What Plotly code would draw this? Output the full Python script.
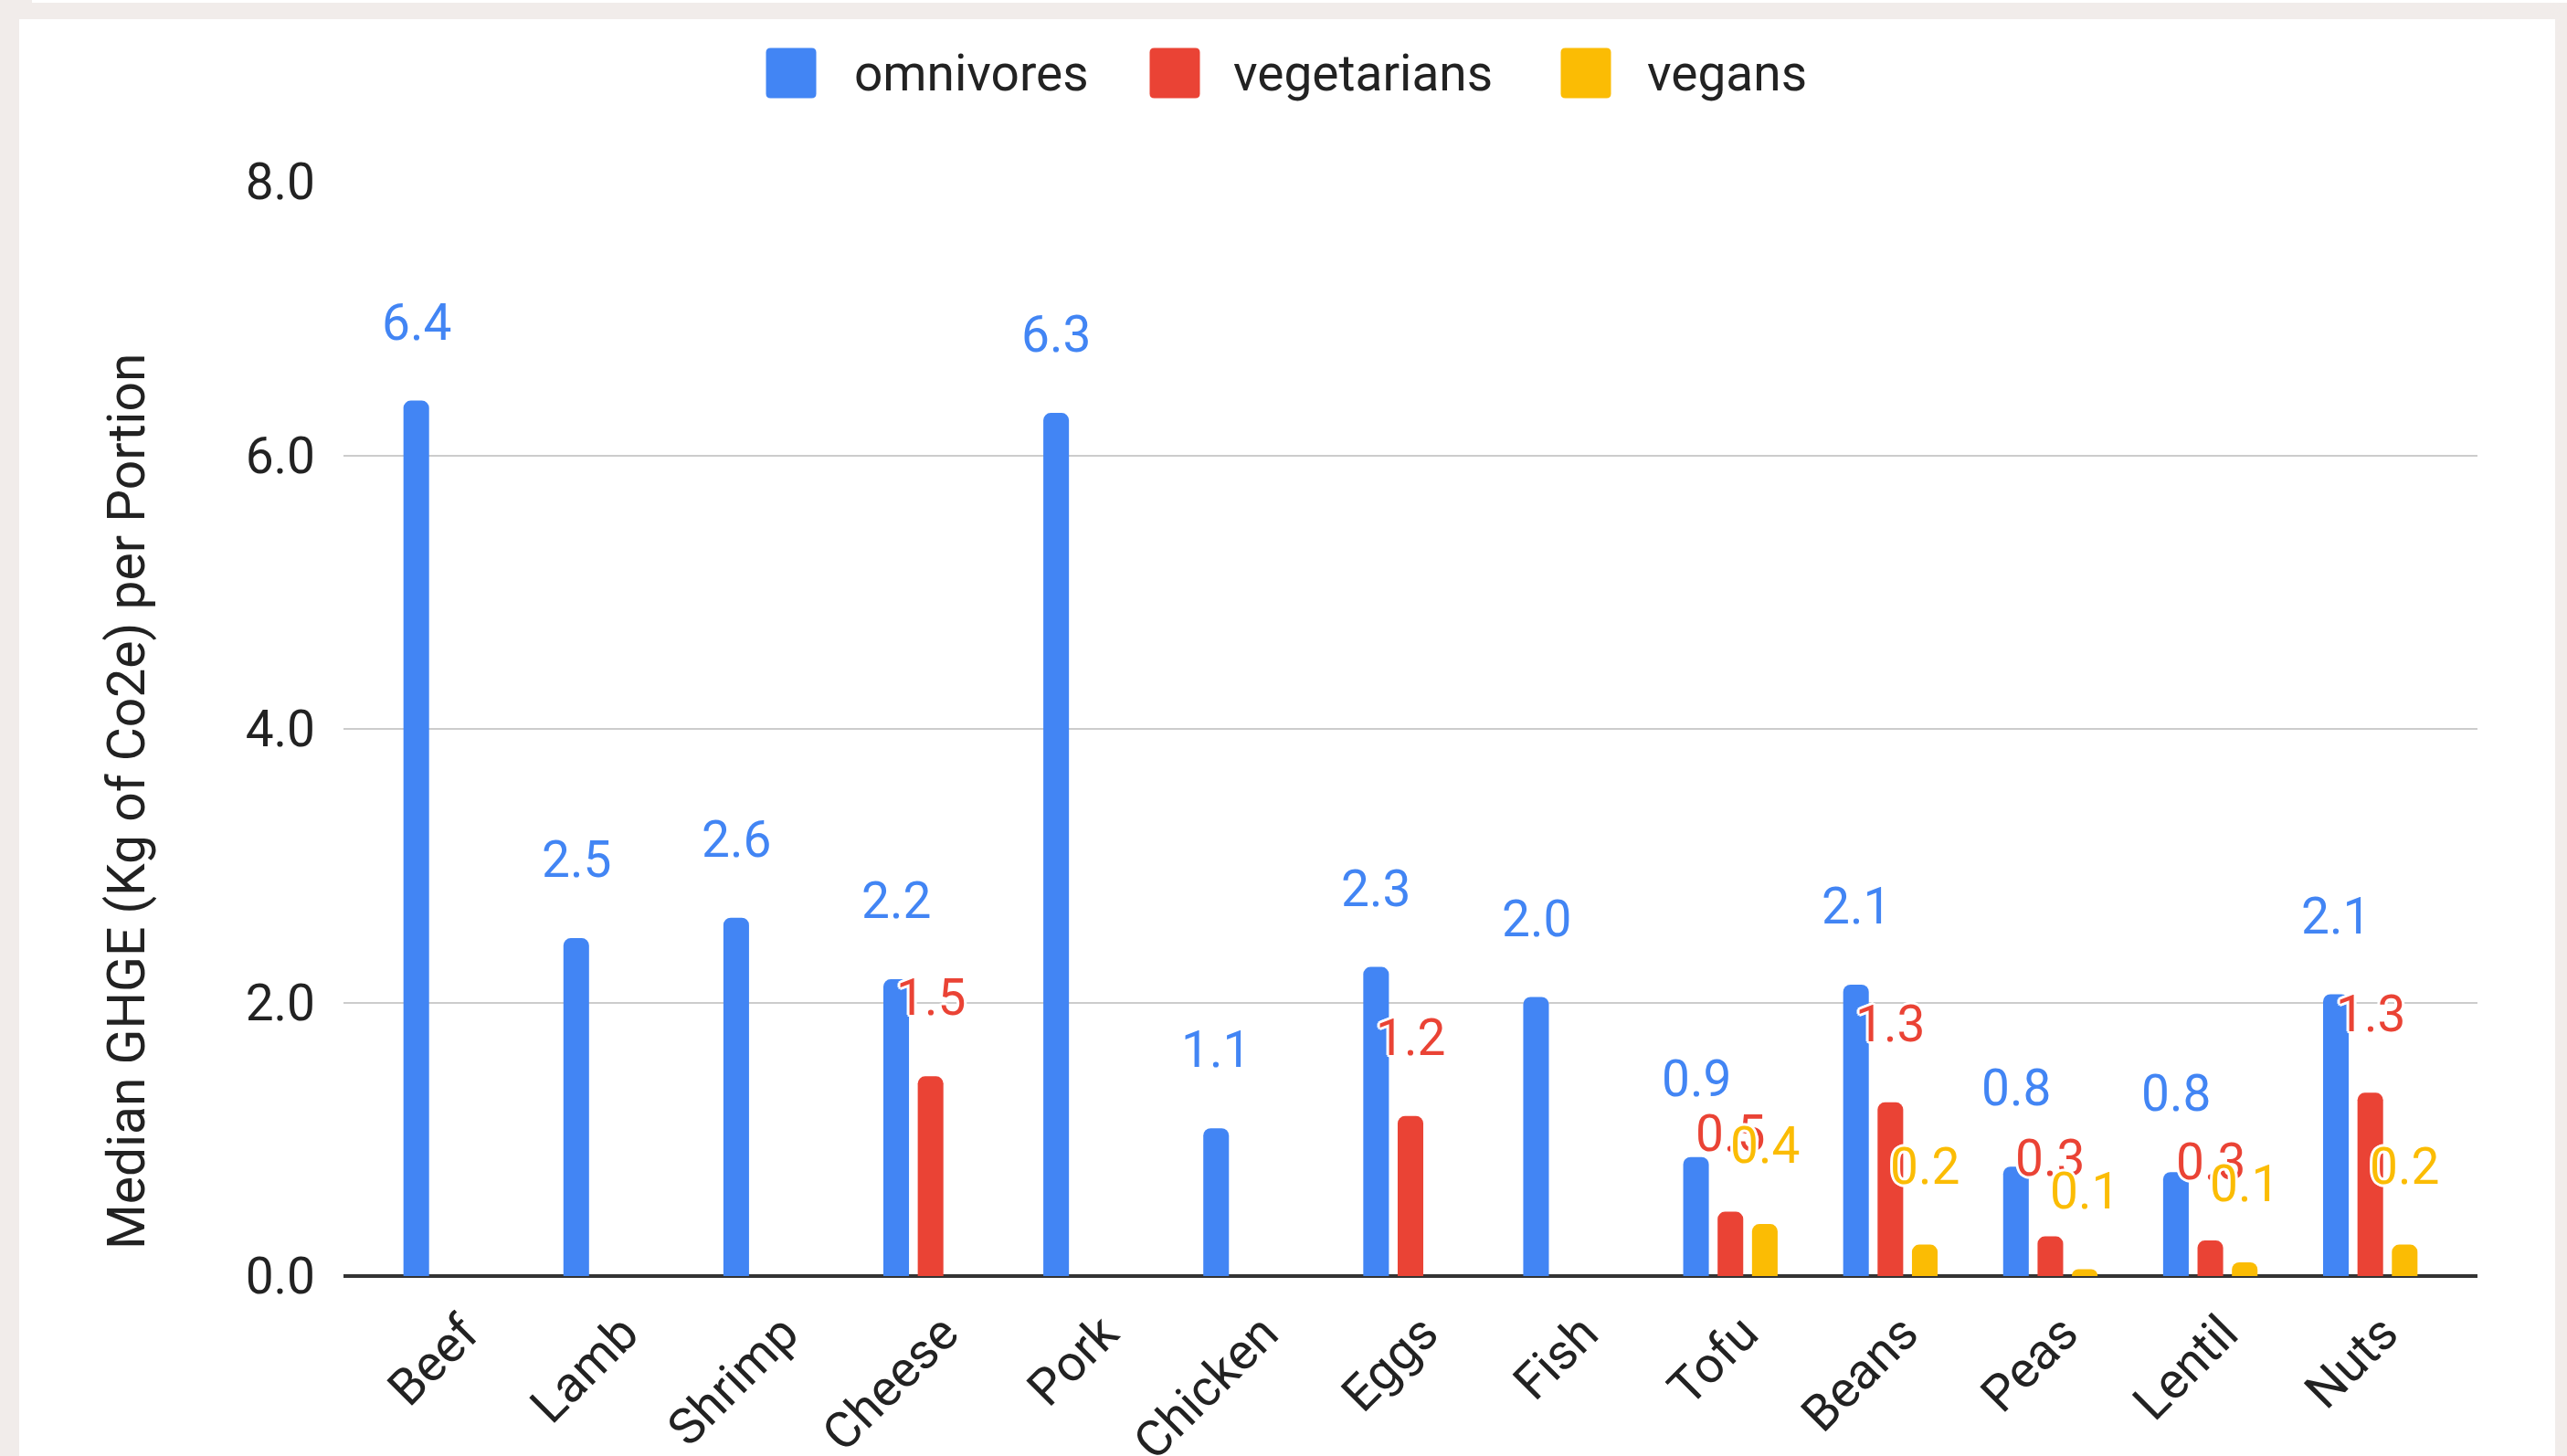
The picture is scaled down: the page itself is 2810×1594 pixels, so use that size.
import plotly.graph_objects as go

# ---- data ----
categories = ["Beef", "Lamb", "Shrimp", "Cheese", "Pork", "Chicken", "Eggs",
              "Fish", "Tofu", "Beans", "Peas", "Lentil", "Nuts"]
omnivores = [6.40, 2.47, 2.62, 2.17, 6.31, 1.08, 2.26, 2.04, 0.87, 2.13, 0.80, 0.76, 2.06]
vegetarians = [None, None, None, 1.46, None, None, 1.17, None, 0.47, 1.27, 0.29, 0.26, 1.34]
vegans = [None, None, None, None, None, None, None, None, 0.38, 0.23, 0.05, 0.10, 0.23]
series_names = ["omnivores", "vegetarians", "vegans"]
y_title = "Median GHGE (Kg of Co2e) per Portion"
y_ticks = [0, 2, 4, 6, 8]

# ---- style ----
colors = ["#4285F4", "#EA4335", "#FBBC04"]
FONT = "Roboto"
FS = 55
W, H = 2810, 1594
L, R, T, B = 376, 2712, 199, 1397
SLOT_PX = 37.6
LABEL_SHIFT = 86
BG = "#f1ecea"
HALO = ("3px 0 0 #fff, -3px 0 0 #fff, 0 3px 0 #fff, 0 -3px 0 #fff, "
        "2px 2px 0 #fff, -2px -2px 0 #fff, 2px -2px 0 #fff, -2px 2px 0 #fff")


def px_x(x):
    return (x - L) / (R - L)


def px_y(y):
    return (B - y) / (B - T)


series = [omnivores, vegetarians, vegans]
fig = go.Figure()
for name, vals, col in zip(series_names, series, colors):
    fig.add_trace(go.Bar(x=categories, y=vals, name=name, marker=dict(color=col, line=dict(width=0)),
                         showlegend=False, hoverinfo="x+y+name"))

annotations = []
for i, (vals, col) in enumerate(zip(series, colors)):
    for cat, v in zip(categories, vals):
        if v is None:
            continue
        annotations.append(dict(
            x=cat, y=v, xref="x", yref="y", text=f"{v:.1f}", showarrow=False,
            xshift=(i - 1) * SLOT_PX, yshift=LABEL_SHIFT, yanchor="middle", xanchor="center",
            font=dict(family=FONT, size=FS, color=col, shadow=HALO),
        ))

# y axis title
annotations.append(dict(
    x=px_x(138), y=px_y(878), xref="paper", yref="paper", text=y_title, textangle=-90,
    showarrow=False, xanchor="center", yanchor="middle",
    font=dict(family=FONT, size=57, color="#222222"),
))

# legend (drawn manually to get the large square keys)
legend_icon_x = [866, 1286, 1736]
legend_text_x = [933, 1348, 1801]
legend_y = 80
half = 27.5
r = 5
icon_path = (f"M {-half + r},{-half} L {half - r},{-half} Q {half},{-half} {half},{-half + r} "
             f"L {half},{half - r} Q {half},{half} {half - r},{half} L {-half + r},{half} "
             f"Q {-half},{half} {-half},{half - r} L {-half},{-half + r} Q {-half},{-half} {-half + r},{-half} Z")
shapes = [
    dict(type="rect", xref="paper", yref="paper", x0=px_x(21), x1=px_x(2797), y0=px_y(21), y1=px_y(H + 5),
         fillcolor="white", line=dict(width=0), layer="below"),
    dict(type="rect", xref="paper", yref="paper", x0=px_x(35), x1=px_x(W + 5), y0=px_y(-5), y1=px_y(3),
         fillcolor="white", line=dict(width=0), layer="below"),
]
for name, col, ix, tx in zip(series_names, colors, legend_icon_x, legend_text_x):
    shapes.append(dict(type="path", xref="paper", yref="paper", xsizemode="pixel", ysizemode="pixel",
                       xanchor=px_x(ix), yanchor=px_y(legend_y), path=icon_path,
                       fillcolor=col, line=dict(width=0)))
    annotations.append(dict(x=px_x(tx), y=px_y(legend_y), xref="paper", yref="paper", text=name,
                            showarrow=False, xanchor="left", yanchor="middle",
                            font=dict(family=FONT, size=FS, color="#222222")))

fig.update_layout(
    width=W, height=H,
    margin=dict(l=L, r=W - R, t=T, b=H - B, autoexpand=False),
    paper_bgcolor=BG, plot_bgcolor="white",
    barmode="group", bargap=0.355, bargroupgap=0.255, barcornerradius=8,
    font=dict(family=FONT, size=FS, color="#222222"),
    shapes=shapes, annotations=annotations, showlegend=False,
    xaxis=dict(type="category", range=[-0.67, len(categories) - 1 + 0.67], tickangle=-45,
               showgrid=False, showline=False, ticks="", ticklabelstandoff=18, ticklabelshift=14,
               tickfont=dict(family=FONT, size=FS, color="#222222")),
    yaxis=dict(range=[0, 8], tickvals=y_ticks, tickformat=".1f", showgrid=True, gridcolor="#cccccc",
               gridwidth=2, zeroline=True, zerolinecolor="#333333", zerolinewidth=4, showline=False,
               ticks="", ticklabelstandoff=30, tickfont=dict(family=FONT, size=FS, color="#222222")),
)

fig.write_html("out.html", config={"displayModeBar": False},
               post_script="document.body.style.margin='0';document.body.style.overflow='hidden';")
